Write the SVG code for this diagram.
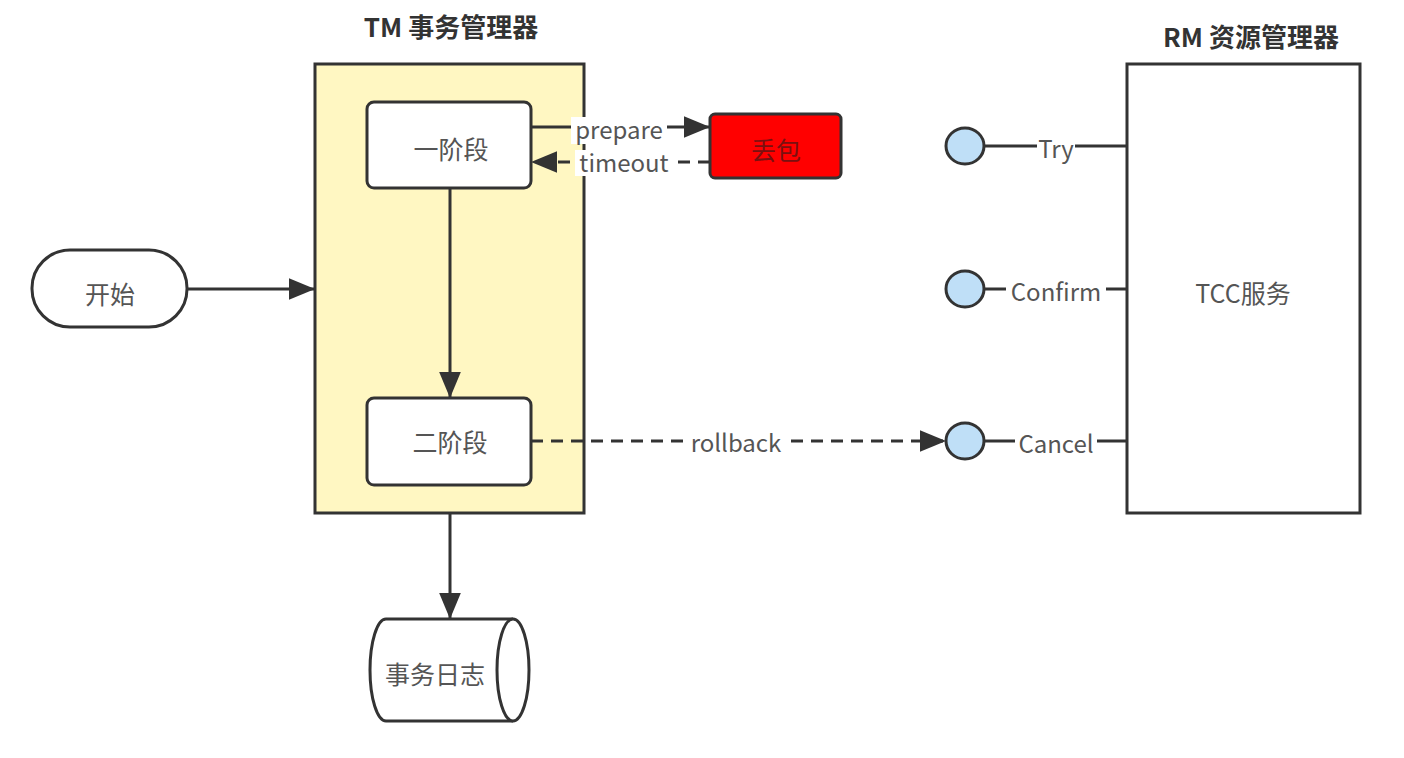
<svg xmlns="http://www.w3.org/2000/svg" width="1404" height="758" viewBox="0 0 1404 758">
<defs>
<marker id="arrL" viewBox="0 0 12 10" refX="12" refY="5" markerWidth="26" markerHeight="22" markerUnits="userSpaceOnUse" orient="auto">
<path d="M0,0 L12,5 L0,10 Z" fill="#333"/>
</marker>
</defs>
<style>
.box{stroke:#333;stroke-width:3;}
.ln{stroke:#333;stroke-width:3;fill:none;}
.dash{stroke-dasharray:12,8;}
.t{font-family:"Noto Sans CJK SC","Noto Sans",sans-serif;font-size:25px;fill:#555;text-anchor:middle;}
.title{font-family:"Noto Sans CJK SC","Noto Sans",sans-serif;font-size:26px;font-weight:bold;fill:#333;text-anchor:middle;}
.lbl{font-family:"Noto Sans CJK SC","Noto Sans",sans-serif;font-size:24px;fill:#555;text-anchor:middle;}
.port{fill:#bfdff7;stroke:#333;stroke-width:3;}
.bg{fill:#fff;}
</style>
<rect width="1404" height="758" fill="#fff"/>
<g id="tm">
<rect class="box" x="315" y="64" width="269" height="449" fill="#fff7c2"/>
<text class="title" x="451" y="37">TM 事务管理器</text>
</g>
<g id="rm">
<rect class="box" x="1127" y="64" width="233" height="449" fill="#fff"/>
<text class="title" x="1251" y="47">RM 资源管理器</text>
<text class="t" x="1243" y="303">TCC服务</text>
</g>
<g id="connectors">
<line class="ln" x1="187" y1="289" x2="315" y2="289" marker-end="url(#arrL)"/>
<line class="ln" x1="450" y1="188" x2="450" y2="398" marker-end="url(#arrL)"/>
<line class="ln" x1="450" y1="513" x2="450" y2="619" marker-end="url(#arrL)"/>
<line class="ln" x1="531" y1="127" x2="710" y2="127" marker-end="url(#arrL)"/>
<line class="ln dash" x1="710" y1="162" x2="531" y2="162" marker-end="url(#arrL)"/>
<line class="ln dash" x1="531" y1="441" x2="946" y2="441" marker-end="url(#arrL)"/>
<line class="ln" x1="984" y1="146" x2="1127" y2="146"/>
<line class="ln" x1="984" y1="289" x2="1127" y2="289"/>
<line class="ln" x1="984" y1="441" x2="1127" y2="441"/>
<rect class="bg" x="571" y="117" width="96" height="27"/>
<text class="lbl" x="619" y="139">prepare</text>
<rect class="bg" x="575" y="150" width="98" height="26"/>
<text class="lbl" x="624" y="172">timeout</text>
<rect class="bg" x="687" y="429" width="98" height="27"/>
<text class="lbl" x="736" y="452">rollback</text>
<rect class="bg" x="1037" y="134" width="38" height="28"/>
<text class="lbl" x="1056" y="158">Try</text>
<rect class="bg" x="1006" y="277" width="100" height="27"/>
<text class="lbl" x="1056" y="301">Confirm</text>
<rect class="bg" x="1015" y="429" width="82" height="27"/>
<text class="lbl" x="1056" y="453">Cancel</text>
</g>
<g id="p1">
<rect class="box" x="367" y="102" width="164" height="86" rx="7" fill="#fff"/>
<text class="t" x="451" y="159">一阶段</text>
</g>
<g id="p2">
<rect class="box" x="367" y="398" width="164" height="87" rx="7" fill="#fff"/>
<text class="t" x="450" y="452">二阶段</text>
</g>
<g id="drop">
<rect class="box" x="710" y="114" width="131" height="64" rx="5" fill="#ff0000"/>
<text class="t" x="776" y="160" style="fill:#7a1010">丢包</text>
</g>
<g id="start">
<rect class="box" x="32" y="250" width="155" height="77" rx="38" fill="#fff"/>
<text class="t" x="110" y="304">开始</text>
</g>
<g id="log">
<path class="box" d="M513,619 L386,619 A16,51 0 0 0 386,721 L513,721" fill="#fff"/>
<ellipse class="box" cx="513" cy="670" rx="16" ry="51" fill="#fff"/>
<text class="t" x="435" y="684">事务日志</text>
</g>
<g id="try"><ellipse class="port" cx="965" cy="146" rx="19" ry="18"/></g>
<g id="confirm"><ellipse class="port" cx="965" cy="289" rx="19" ry="18"/></g>
<g id="cancel"><ellipse class="port" cx="965" cy="441" rx="19" ry="18"/></g>
</svg>
